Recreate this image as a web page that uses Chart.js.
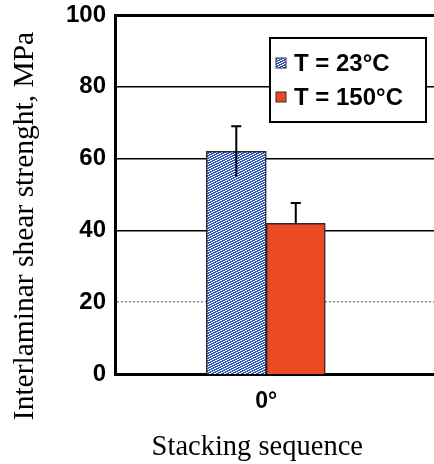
<!DOCTYPE html>
<html><head><meta charset="utf-8">
<script src="https://cdn.jsdelivr.net/npm/chart.js@4.4.0/dist/chart.umd.min.js"></script>
<style>html,body{margin:0;padding:0;background:#fff;overflow:hidden}#wrap{width:434px;height:464px;position:relative}canvas{display:block}</style>
</head><body><div id="wrap"><canvas id="c" width="434" height="464"></canvas></div>
<script>
// ---- data ----
const categories = [0];            // stacking angle, degrees
const xTickLabels = ['0°'];
const seriesLabels = ['T = 23°C', 'T = 150°C'];
const strength23 = [62];
const strength150 = [42];
const err23 = [7];
const err150 = [5.6];
const yTickValues = [0, 20, 40, 60, 80, 100];
const yTitle = 'Interlaminar shear strenght, MPa';
const xTitle = 'Stacking sequence';

// ---- styles ----
function makePattern() {
  const p = document.createElement('canvas');
  p.width = 5; p.height = 5;
  const g = p.getContext('2d');
  g.fillStyle = '#2d55c0'; g.fillRect(0, 0, 5, 5);
  g.fillStyle = '#ffffff';
  [[0,0],[1,0],[3,1],[4,1],[1,2],[2,2],[4,3],[0,3],[2,4],[3,4]].forEach(([x,y]) => g.fillRect(x, y, 1, 1));
  return g.createPattern(p, 'repeat');
}
const blueFill = makePattern();
const redFill = '#eb4823';
const fills = [blueFill, redFill];
const errs = [err23, err150];
const showLower = [true, false];

const errorBars = {
  id: 'errorBars',
  afterDatasetsDraw(chart) {
    const ctx = chart.ctx, ys = chart.scales.y;
    chart.data.datasets.forEach((ds, di) => {
      const meta = chart.getDatasetMeta(di);
      meta.data.forEach((bar, i) => {
        const v = ds.data[i].y, e = errs[di][i];
        const top = ys.getPixelForValue(v + e);
        const bot = showLower[di] ? ys.getPixelForValue(v - e) : ys.getPixelForValue(v);
        ctx.save();
        ctx.strokeStyle = '#000'; ctx.lineWidth = 2;
        ctx.beginPath();
        ctx.moveTo(bar.x, bot); ctx.lineTo(bar.x, top);
        ctx.moveTo(bar.x - 5, top); ctx.lineTo(bar.x + 5, top);
        ctx.stroke();
        ctx.restore();
      });
    });
  }
};

const boxLegend = {
  id: 'boxLegend',
  afterDraw(chart) {
    const ctx = chart.ctx, a = chart.chartArea;
    const x = a.left + 155, y = a.top + 23, w = 156, h = 84;
    ctx.save();
    ctx.fillStyle = '#fff'; ctx.fillRect(x, y, w, h);
    ctx.strokeStyle = '#000'; ctx.lineWidth = 2; ctx.strokeRect(x, y, w, h);
    ctx.font = 'bold 24px "Liberation Sans", Arial, sans-serif';
    ctx.textBaseline = 'middle'; ctx.textAlign = 'left';
    chart.data.datasets.forEach((ds, i) => {
      const cy = y + 25 + i * 34;
      ctx.fillStyle = fills[i];
      ctx.fillRect(x + 6, cy - 5, 10, 10);
      ctx.strokeStyle = '#333'; ctx.lineWidth = 1; ctx.strokeRect(x + 6, cy - 5, 10, 10);
      ctx.fillStyle = '#000';
      ctx.fillText(ds.label, x + 24, cy + 1);
    });
    ctx.restore();
  }
};

const axisTitles = {
  id: 'axisTitles',
  afterDraw(chart) {
    const ctx = chart.ctx, xs = chart.scales.x;
    ctx.save();
    ctx.fillStyle = '#000'; ctx.textAlign = 'center'; ctx.textBaseline = 'alphabetic';
    ctx.font = '28.5px "Liberation Serif", "Times New Roman", serif';
    ctx.fillText(xTitle, xs.getPixelForValue(categories[0]) - 9, chart.height - 9);
    ctx.translate(33, 226);
    ctx.rotate(-Math.PI / 2);
    ctx.font = '29.5px "Liberation Serif", "Times New Roman", serif';
    ctx.fillText(yTitle, 0, 0);
    ctx.restore();
  }
};

new Chart(document.getElementById('c'), {
  type: 'bar',
  data: {
    datasets: [
      { label: seriesLabels[0], data: categories.map((c, i) => ({x: c, y: strength23[i]})),
        backgroundColor: blueFill, borderColor: '#2b2b2b', borderWidth: 1.5, barThickness: 60 },
      { label: seriesLabels[1], data: categories.map((c, i) => ({x: c, y: strength150[i]})),
        backgroundColor: redFill, borderColor: '#2b2b2b', borderWidth: 1.5, barThickness: 59 }
    ]
  },
  options: {
    responsive: false,
    animation: false,
    devicePixelRatio: 1,
    layout: { padding: { top: 15, right: 0, left: 0, bottom: 0 } },
    plugins: { legend: { display: false }, tooltip: { enabled: false } },
    scales: {
      x: {
        type: 'linear', min: -1, max: 1.23, bounds: 'data',
        afterBuildTicks: s => { s.ticks = categories.map(v => ({ value: v })); },
        afterFit: s => { s.height = 90; s.paddingLeft = 0; s.paddingRight = 0; },
        grid: { display: false, drawTicks: false },
        border: { display: true, color: '#000', width: 3 },
        ticks: { padding: 14, color: '#000', font: { family: '"Liberation Sans", Arial, sans-serif', weight: 'bold', size: 23 },
                 callback: v => xTickLabels[categories.indexOf(v)] }
      },
      y: {
        min: 0, max: 100,
        afterBuildTicks: s => { s.ticks = yTickValues.map(v => ({ value: v })); },
        afterFit: s => { s.width = 115; s.paddingTop = 0; s.paddingBottom = 0; },
        grid: {
          drawTicks: false,
          color: c => (c.tick && c.tick.value === 20) ? '#8a8a8a' : '#000',
          lineWidth: c => !c.tick ? 1 : (c.tick.value === 0 ? 0 : (c.tick.value === 100 ? 3 : 1.5))
        },
        border: { display: true, color: '#000', width: 3, dash: c => (c.tick && c.tick.value === 20) ? [2, 2] : [] },
        ticks: { padding: 9, color: '#000', font: { family: '"Liberation Sans", Arial, sans-serif', weight: 'bold', size: 24 } },
        title: { display: false }
      }
    }
  },
  plugins: [errorBars, boxLegend, axisTitles]
});
</script></body></html>
